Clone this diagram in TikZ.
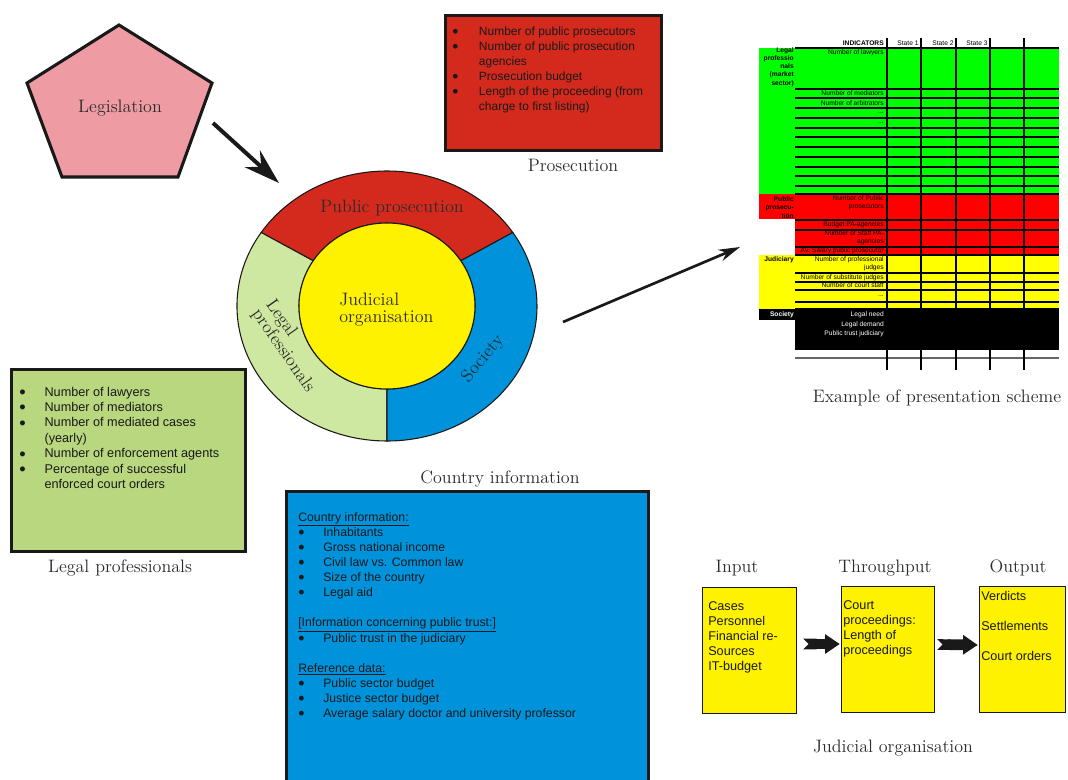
\documentclass[tikz,border=0pt]{standalone}
\usepackage{fontspec}
\newfontfamily\arialf{Liberation Sans}
\usetikzlibrary{arrows.meta,calc}
\definecolor{cPink}{HTML}{EE9BA3}
\definecolor{cRed}{HTML}{D42A1E}
\definecolor{cBlue}{HTML}{0093DB}
\definecolor{cLgreen}{HTML}{CFE8A1}
\definecolor{cYellow}{HTML}{FFF200}
\definecolor{cBoxGreen}{HTML}{B8D77E}
\definecolor{cTGreen}{HTML}{00FF00}
\definecolor{cTRed}{HTML}{FF0000}
\definecolor{cTYellow}{HTML}{FFFF00}
\definecolor{cText}{HTML}{2B2B2B}
\newlength{\bgap}
\newcommand{\bi}{\makebox[\bgap][l]{\raisebox{-0.17em}{\scalebox{1.45}{\textbullet}}}}
\newcommand{\txtlines}[1]{\begin{tabular}[t]{@{}l@{}}#1\end{tabular}}
\begin{document}
\begin{tikzpicture}[x=0.75pt,y=0.75pt,
 capt/.style={font=\fontsize{13.5}{12.75}\selectfont, text=cText, inner sep=0},
 sans/.style={font=\arialf\fontsize{9}{11.25}\selectfont, text=black!90, inner sep=0, anchor=base west},
 thickbox/.style={draw=black!90, line width=2.3pt, inner sep=0},
 ybox/.style={draw=black!90, line width=1.1pt, fill=cYellow, inner sep=0, minimum height=94.5pt},
 ringline/.style={draw=black!90, line width=0.8pt},
 tl/.style={font=\arialf\fontsize{5}{6.2}\selectfont, inner sep=0, anchor=east, align=right},
 tlb/.style={tl, font=\arialf\bfseries\fontsize{5}{6.2}\selectfont},
 tthin/.style={line width=0.8pt},
 tthick/.style={line width=1.4pt},
 blockarr/.style={line width=8pt, draw=black!90, {Triangle Cap[reversed]}-{Triangle[length=11pt,width=14pt]}},
]
\useasboundingbox (0,0) rectangle (1068,-779);
\clip (0,0) rectangle (1068,-779);

% ---------- Legislation ----------
\draw[line width=2.3pt, fill=cPink, draw=black!90, line join=miter] (119,-25) -- (212,-83) -- (178,-177) -- (62,-177) -- (27,-83) -- cycle;
\node[capt] (leg) at (120,-108) {Legislation};

% ---------- Ring ----------
\coordinate (rc) at (387,-306);
\filldraw[ringline, fill=cRed] ($(rc)+(33:112.5pt and 101.25pt)$) arc[start angle=33,end angle=147,x radius=112.5pt,y radius=101.25pt] -- ($(rc)+(147:66pt and 62.25pt)$) arc[start angle=147,end angle=33,x radius=66pt,y radius=62.25pt] -- cycle;
\filldraw[ringline, fill=cLgreen] ($(rc)+(147:112.5pt and 101.25pt)$) arc[start angle=147,end angle=270,x radius=112.5pt,y radius=101.25pt] -- ($(rc)+(270:66pt and 62.25pt)$) arc[start angle=270,end angle=147,x radius=66pt,y radius=62.25pt] -- cycle;
\filldraw[ringline, fill=cBlue] ($(rc)+(-90:112.5pt and 101.25pt)$) arc[start angle=-90,end angle=33,x radius=112.5pt,y radius=101.25pt] -- ($(rc)+(33:66pt and 62.25pt)$) arc[start angle=33,end angle=-90,x radius=66pt,y radius=62.25pt] -- cycle;
\filldraw[ringline, fill=cYellow] (rc) ellipse[x radius=66pt, y radius=62.25pt];
\node[capt] (pp) at (392,-208) {Public prosecution};
\node[capt, anchor=west, align=left] (jo) at (339,-310) {Judicial\\organisation};
\node[capt, rotate=-55, align=left] (lp) at (290,-346) {Legal\\professionals};
\node[capt, rotate=50] (soc) at (483,-359) {Society};

% ---------- Arrows ----------
\coordinate (la1) at (213,-123);
\coordinate (la2) at (279,-183);
\draw[line width=3pt, draw=black!90, -{Stealth[length=27pt,width=17pt,inset=9pt]}] (la1) -- (la2);
\coordinate (ta1) at (563,-322);
\coordinate (ta2) at (740,-247);
\draw[line width=2pt, draw=black!90, -{Stealth[length=16pt,width=9pt,inset=5pt]}] (ta1) -- (ta2);

% ---------- Prosecution box ----------
\node[thickbox, fill=cRed, minimum width=162pt, minimum height=101.25pt] (pros) at (553.5,-83) {};
\node[sans] (prostxt) at (452,-35) {\setlength{\bgap}{20pt}\begin{tabular}[t]{@{}l@{}l@{}}
\bi & Number of public prosecutors\\
\bi & Number of public prosecution\\
 & agencies\\
\bi & Prosecution budget\\
\bi & Length of the proceeding (from\\
 & charge to first listing)
\end{tabular}};
\node[capt] (capPros) at (573,-165) {Prosecution};

% ---------- Legal professionals box ----------
\node[thickbox, fill=cBoxGreen, minimum width=175.5pt, minimum height=136.5pt] (legal) at (128.5,-460.5) {};
\node[sans, font=\arialf\fontsize{9.5}{11.6}\selectfont] (legaltxt) at (19,-396) {\setlength{\bgap}{19pt}\begin{tabular}[t]{@{}l@{}l@{}}
\bi & Number of lawyers\\
\bi & Number of mediators\\
\bi & Number of mediated cases\\
 & (yearly)\\
\bi & Number of enforcement agents\\
\bi & Percentage of successful\\
 & enforced court orders
\end{tabular}};
\node[capt] (capLegal) at (120,-568) {Legal professionals};

% ---------- Country information box ----------
\node[capt] (capCountry) at (500,-479) {Country information};
\node[thickbox, fill=cBlue, minimum width=271.5pt, minimum height=231.4pt] (country) at (467.5,-645.75) {};
\node[sans, font=\arialf\fontsize{9.2}{11.25}\selectfont] (countrytxt) at (298,-521) {\setlength{\bgap}{18.75pt}\begin{tabular}[t]{@{}l@{}l@{}}
\multicolumn{2}{@{}l@{}}{\underline{Country information:}}\\
\bi & Inhabitants\\
\bi & Gross national income\\
\bi & Civil law vs. Common law\\
\bi & Size of the country\\
\bi & Legal aid\\
{} & {}\\
\multicolumn{2}{@{}l@{}}{\underline{[Information concerning public trust:]}}\\
\bi & Public trust in the judiciary\\
{} & {}\\
\multicolumn{2}{@{}l@{}}{\underline{Reference data:}}\\
\bi & Public sector budget\\
\bi & Justice sector budget\\
\bi & Average salary doctor and university professor
\end{tabular}};

% ---------- Judicial organisation flow ----------
\node[capt] (capIn) at (737,-568) {Input};
\node[capt] (capTh) at (885,-568) {Throughput};
\node[capt] (capOut) at (1018,-568) {Output};
\node[ybox, minimum width=70.5pt] (inbox) at (749.5,-650.5) {};
\node[ybox, minimum width=69.75pt] (thbox) at (888,-649.5) {};
\node[ybox, minimum width=64.5pt] (outbox) at (1022.5,-649.5) {};
\node[sans, font=\arialf\fontsize{9.5}{11.25}\selectfont] (intxt) at (708,-610) {\txtlines{Cases\\Personnel\\Financial re-\\Sources\\IT-budget}};
\node[sans, font=\arialf\fontsize{9.5}{11.25}\selectfont] (thtxt) at (843,-609) {\txtlines{Court\\proceedings:\\Length of\\proceedings}};
\node[sans, font=\arialf\fontsize{9.5}{11.25}\selectfont] (outtxt) at (981,-600) {\txtlines{Verdicts\\{}\\Settlements\\{}\\Court orders}};
\draw[blockarr] ($(inbox.east)+(6,6.5)$) -- ($(thbox.west)+(-1,5.5)$);
\draw[blockarr] ($(thbox.east)+(2,5)$) -- ($(outbox.west)+(-1,4.5)$);
\node[capt] (capJud) at (893,-748) {Judicial organisation};

% ---------- Presentation scheme table ----------
\fill[cTGreen] (759,-48) rectangle (1059,-194);
\fill[cTRed] (759,-194) rectangle (795,-219);
\fill[cTRed] (795,-194) rectangle (1059,-255);
\fill[cTYellow] (759,-255) rectangle (1059,-309);
\fill[black] (759,-309) rectangle (795,-320);
\fill[black] (795,-309) rectangle (1059,-350);
\foreach \y in {98,108,128,137,147,157,167,176,186,220,230,247,273,282,290,302}
  \draw[tthin] (795,-\y) -- (1059,-\y);
\foreach \y in {48,89,118,194,255,309}
  \draw[tthick] (795,-\y) -- (1059,-\y);
\draw[tthin, black!60] (795,-358) -- (1059,-358);
\foreach \x/\w in {887/1.3pt,921/0.9pt,956/1.3pt,990/1.3pt,1024/1pt}
  \draw[line width=\w] (\x,-38) -- (\x,-370);

\node[tlb] (hInd) at (884,-43) {INDICATORS};
\node[tl, anchor=center] (hS1) at (908,-43) {State 1};
\node[tl, anchor=center] (hS2) at (943,-43) {State 2};
\node[tl, anchor=center] (hS3) at (977,-43) {State 3};

\node[tlb] (gLab) at (794,-67) {Legal\\professio\\nals\\(market\\sector)};
\node[tl] (g1) at (884,-53) {Number of lawyers};
\node[tl] (g2) at (884,-93) {Number of mediators};
\node[tl] (g3) at (884,-103) {Number of arbitrators};
\node[tl] (g4) at (884,-113) {...};
\node[tl] (g5) at (884,-123) {...};

\node[tlb] (rLab) at (794,-207.5) {Public\\prosecu-\\tion};
\node[tl] (r1) at (884,-203) {Number of Public\\prosecutors};
\node[tl] (r2) at (884,-224.5) {Budget PA-agencies};
\node[tl] (r3) at (884,-238) {Number of Staff PA-\\agencies};
\node[tl] (r4) at (884,-251) {Av. Salary public prosecutor};

\node[tlb] (yLab) at (794,-260) {Judiciary};
\node[tl] (y1) at (884,-264) {Number of professional\\judges};
\node[tl] (y2) at (884,-277.5) {Number of substitute judges};
\node[tl] (y3) at (884,-285.5) {Number of court staff};
\node[tl] (y4) at (884,-296) {...};

\node[tlb, text=white] (sLab) at (794,-315) {Society};
\node[tl, text=white] (s1) at (884,-315) {Legal need};
\node[tl, text=white] (s2) at (884,-325) {Legal demand};
\node[tl, text=white] (s3) at (884,-334) {Public trust judiciary};

\node[capt] (capEx) at (937,-398) {Example of presentation scheme};
\end{tikzpicture}
\end{document}
